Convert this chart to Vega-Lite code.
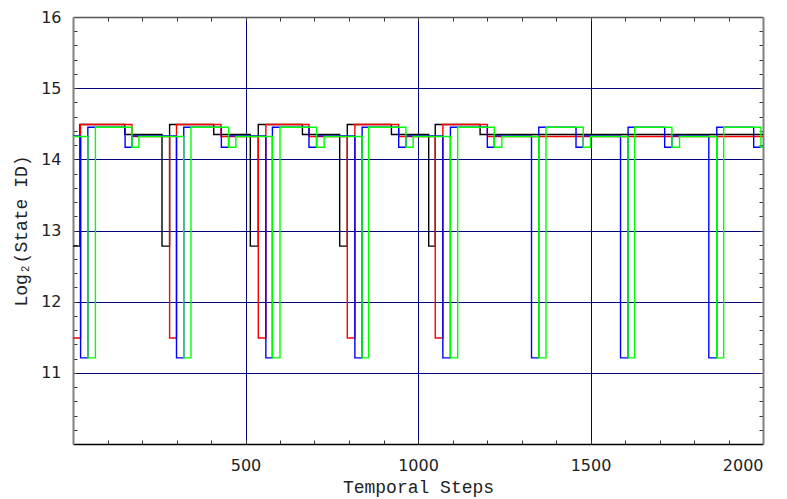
{
  "$schema": "https://vega.github.io/schema/vega-lite/v6.json",
  "width": 690,
  "height": 427,
  "autosize": {"type": "none"},
  "padding": {"left": 73, "top": 17, "right": 24, "bottom": 55},
  "background": "white",
  "config": {"view": {"stroke": null}},
  "datasets": {
    "series": [
      {"s": "black", "t": 0, "v": 12.78}, {"s": "black", "t": 20, "v": 14.49}, {"s": "black", "t": 150, "v": 14.35},
      {"s": "black", "t": 258, "v": 12.78}, {"s": "black", "t": 280, "v": 14.49}, {"s": "black", "t": 408, "v": 14.35},
      {"s": "black", "t": 514, "v": 12.78}, {"s": "black", "t": 537, "v": 14.49}, {"s": "black", "t": 665, "v": 14.35},
      {"s": "black", "t": 773, "v": 12.78}, {"s": "black", "t": 795, "v": 14.49}, {"s": "black", "t": 923, "v": 14.35},
      {"s": "black", "t": 1031, "v": 12.78}, {"s": "black", "t": 1050, "v": 14.49}, {"s": "black", "t": 1180, "v": 14.35},
      {"s": "black", "t": 2000, "v": 14.35},
      {"s": "red", "t": 0, "v": 11.49}, {"s": "red", "t": 22, "v": 14.49}, {"s": "red", "t": 171, "v": 14.32},
      {"s": "red", "t": 280, "v": 11.49}, {"s": "red", "t": 300, "v": 14.49}, {"s": "red", "t": 429, "v": 14.32},
      {"s": "red", "t": 537, "v": 11.49}, {"s": "red", "t": 559, "v": 14.49}, {"s": "red", "t": 684, "v": 14.32},
      {"s": "red", "t": 795, "v": 11.49}, {"s": "red", "t": 817, "v": 14.49}, {"s": "red", "t": 944, "v": 14.32},
      {"s": "red", "t": 1050, "v": 11.49}, {"s": "red", "t": 1072, "v": 14.49}, {"s": "red", "t": 1201, "v": 14.32},
      {"s": "red", "t": 2000, "v": 14.32},
      {"s": "blue", "t": 0, "v": 14.33}, {"s": "blue", "t": 22, "v": 11.21}, {"s": "blue", "t": 43, "v": 14.45},
      {"s": "blue", "t": 151, "v": 14.17}, {"s": "blue", "t": 171, "v": 14.33},
      {"s": "blue", "t": 300, "v": 11.21}, {"s": "blue", "t": 321, "v": 14.45}, {"s": "blue", "t": 430, "v": 14.17}, {"s": "blue", "t": 451, "v": 14.33},
      {"s": "blue", "t": 559, "v": 11.21}, {"s": "blue", "t": 578, "v": 14.45}, {"s": "blue", "t": 684, "v": 14.17}, {"s": "blue", "t": 706, "v": 14.33},
      {"s": "blue", "t": 817, "v": 11.21}, {"s": "blue", "t": 838, "v": 14.45}, {"s": "blue", "t": 944, "v": 14.17}, {"s": "blue", "t": 965, "v": 14.33},
      {"s": "blue", "t": 1072, "v": 11.21}, {"s": "blue", "t": 1094, "v": 14.45}, {"s": "blue", "t": 1201, "v": 14.17}, {"s": "blue", "t": 1221, "v": 14.33},
      {"s": "blue", "t": 1329, "v": 11.21}, {"s": "blue", "t": 1350, "v": 14.45}, {"s": "blue", "t": 1458, "v": 14.17}, {"s": "blue", "t": 1479, "v": 14.33},
      {"s": "blue", "t": 1587, "v": 11.21}, {"s": "blue", "t": 1609, "v": 14.45}, {"s": "blue", "t": 1715, "v": 14.17}, {"s": "blue", "t": 1736, "v": 14.33},
      {"s": "blue", "t": 1843, "v": 11.21}, {"s": "blue", "t": 1866, "v": 14.45}, {"s": "blue", "t": 1973, "v": 14.17},
      {"s": "blue", "t": 2000, "v": 14.17},
      {"s": "green", "t": 0, "v": 14.32}, {"s": "green", "t": 43, "v": 11.21}, {"s": "green", "t": 65, "v": 14.45},
      {"s": "green", "t": 171, "v": 14.17}, {"s": "green", "t": 191, "v": 14.32},
      {"s": "green", "t": 321, "v": 11.21}, {"s": "green", "t": 342, "v": 14.45}, {"s": "green", "t": 451, "v": 14.17}, {"s": "green", "t": 472, "v": 14.32},
      {"s": "green", "t": 578, "v": 11.21}, {"s": "green", "t": 600, "v": 14.45}, {"s": "green", "t": 706, "v": 14.17}, {"s": "green", "t": 728, "v": 14.32},
      {"s": "green", "t": 838, "v": 11.21}, {"s": "green", "t": 857, "v": 14.45}, {"s": "green", "t": 965, "v": 14.17}, {"s": "green", "t": 986, "v": 14.32},
      {"s": "green", "t": 1094, "v": 11.21}, {"s": "green", "t": 1115, "v": 14.45}, {"s": "green", "t": 1221, "v": 14.17}, {"s": "green", "t": 1243, "v": 14.32},
      {"s": "green", "t": 1350, "v": 11.21}, {"s": "green", "t": 1371, "v": 14.45}, {"s": "green", "t": 1479, "v": 14.17}, {"s": "green", "t": 1500, "v": 14.32},
      {"s": "green", "t": 1609, "v": 11.21}, {"s": "green", "t": 1628, "v": 14.45}, {"s": "green", "t": 1736, "v": 14.17}, {"s": "green", "t": 1758, "v": 14.32},
      {"s": "green", "t": 1866, "v": 11.21}, {"s": "green", "t": 1886, "v": 14.45}, {"s": "green", "t": 1994, "v": 14.17},
      {"s": "green", "t": 2000, "v": 14.17}
    ],
    "anchor": [{"t": 0, "v": 10}]
  },
  "resolve": {"axis": {"x": "independent", "y": "independent"}},
  "layer": [
    {
      "data": {"name": "anchor"},
      "mark": {"type": "point", "opacity": 0},
      "encoding": {
        "x": {"field": "t", "type": "quantitative", "scale": {"domain": [0, 2000], "nice": false, "zero": false},
          "axis": {"orient": "bottom", "values": [500, 1000, 1500], "grid": true, "gridColor": "#000080", "gridWidth": 1, "gridOpacity": 1,
            "labels": false, "ticks": false, "domain": false, "title": null}},
        "y": {"field": "v", "type": "quantitative", "scale": {"domain": [10, 16], "nice": false, "zero": false},
          "axis": {"orient": "left", "values": [11, 12, 13, 14, 15], "grid": true, "gridColor": "#000080", "gridWidth": 1, "gridOpacity": 1,
            "labels": false, "ticks": false, "domain": false, "title": null}}
      }
    },
    {
      "data": {"name": "anchor"},
      "mark": {"type": "point", "opacity": 0},
      "encoding": {
        "x": {"field": "t", "type": "quantitative",
          "axis": {"orient": "bottom", "values": [100, 200, 300, 400, 500, 600, 700, 800, 900, 1000, 1100, 1200, 1300, 1400, 1500, 1600, 1700, 1800, 1900],
            "grid": false, "labels": false, "ticks": true, "tickSize": -4, "tickColor": "#333333", "tickWidth": 1, "domain": false, "title": null}},
        "y": {"field": "v", "type": "quantitative",
          "axis": {"orient": "left", "values": [10.2, 10.4, 10.6, 10.8, 11, 11.2, 11.4, 11.6, 11.8, 12, 12.2, 12.4, 12.6, 12.8, 13, 13.2, 13.4, 13.6, 13.8, 14, 14.2, 14.4, 14.6, 14.8, 15, 15.2, 15.4, 15.6, 15.8],
            "grid": false, "labels": false, "ticks": true, "tickSize": -4, "tickColor": "#333333", "tickWidth": 1, "domain": false, "title": null}}
      }
    },
    {
      "data": {"name": "anchor"},
      "mark": {"type": "point", "opacity": 0},
      "encoding": {
        "x": {"field": "t", "type": "quantitative",
          "axis": {"orient": "top", "values": [100, 200, 300, 400, 500, 600, 700, 800, 900, 1000, 1100, 1200, 1300, 1400, 1500, 1600, 1700, 1800, 1900],
            "grid": false, "labels": false, "ticks": true, "tickSize": -4, "tickColor": "#333333", "tickWidth": 1,
            "domain": true, "domainColor": "#555555", "domainWidth": 1.5, "title": null}},
        "y": {"field": "v", "type": "quantitative",
          "axis": {"orient": "right", "values": [10.2, 10.4, 10.6, 10.8, 11, 11.2, 11.4, 11.6, 11.8, 12, 12.2, 12.4, 12.6, 12.8, 13, 13.2, 13.4, 13.6, 13.8, 14, 14.2, 14.4, 14.6, 14.8, 15, 15.2, 15.4, 15.6, 15.8],
            "grid": false, "labels": false, "ticks": true, "tickSize": -4, "tickColor": "#333333", "tickWidth": 1,
            "domain": true, "domainColor": "#808080", "domainWidth": 2, "title": null}}
      }
    },
    {
      "data": {"name": "anchor"},
      "mark": {"type": "point", "opacity": 0},
      "encoding": {
        "x": {"field": "t", "type": "quantitative",
          "axis": {"orient": "bottom", "values": [500, 1000, 1500, 2000], "format": "d", "grid": false, "ticks": false,
            "labels": true, "labelFont": "DejaVu Sans", "labelFontSize": 16, "labelColor": "#222222", "labelPadding": 13,
            "domain": true, "domainColor": "#000000", "domainWidth": 1.5,
            "title": "Temporal Steps", "titleFont": "Liberation Mono, DejaVu Sans Mono, monospace", "titleFontSize": 18,
            "titleFontWeight": "normal", "titleColor": "#222222", "titleBaseline": "alphabetic", "titleY": 48}},
        "y": {"field": "v", "type": "quantitative",
          "axis": {"orient": "left", "values": [11, 12, 13, 14, 15, 16], "format": "d", "grid": false, "ticks": false,
            "labels": true, "labelFont": "DejaVu Sans", "labelFontSize": 16, "labelColor": "#222222", "labelPadding": 12,
            "domain": true, "domainColor": "#808080", "domainWidth": 2,
            "title": "Log₂(State ID)", "titleFont": "Liberation Mono, DejaVu Sans Mono, monospace", "titleFontSize": 18,
            "titleFontWeight": "normal", "titleColor": "#222222", "titleBaseline": "middle", "titleX": -52}}
      }
    },
    {
      "data": {"name": "series"},
      "mark": {"type": "line", "interpolate": "step-after", "strokeWidth": 1.4},
      "encoding": {
        "x": {"field": "t", "type": "quantitative", "axis": null},
        "y": {"field": "v", "type": "quantitative", "axis": null},
        "color": {"field": "s", "type": "nominal", "scale": {"domain": ["black", "red", "blue", "green"], "range": ["#000000", "#ff0000", "#0000ff", "#00ff00"]}, "legend": null},
        "order": {"field": "t", "type": "quantitative"}
      }
    }
  ]
}
